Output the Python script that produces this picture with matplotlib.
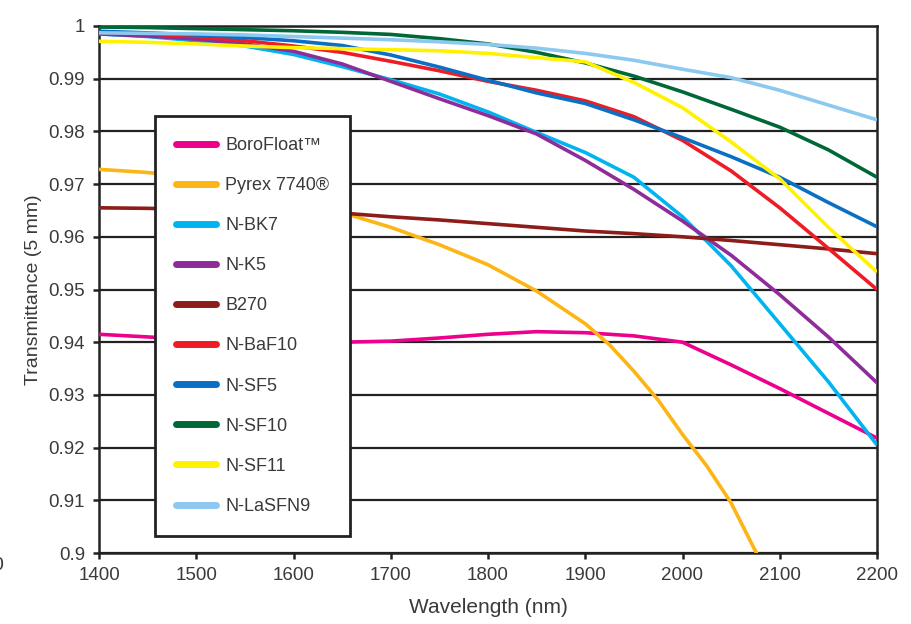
import matplotlib
matplotlib.use("Agg")
import matplotlib.pyplot as plt

plt.rcParams['font.family'] = ['Liberation Sans', 'DejaVu Sans']

# wavelength grid (nm) and read-off transmittance values
wl = [1400, 1450, 1500, 1550, 1600, 1650, 1700, 1750, 1800, 1850, 1900, 1950, 2000, 2050, 2100, 2150, 2200]

borofloat = [0.9415, 0.9410, 0.9405, 0.9402, 0.9400, 0.9400, 0.9402, 0.9408, 0.9415, 0.9420, 0.9418, 0.9412, 0.9400, 0.9357, 0.9312, 0.9265, 0.9218]
b270 = [0.9655, 0.9654, 0.9652, 0.9650, 0.9648, 0.9645, 0.9638, 0.9632, 0.9625, 0.9618, 0.9611, 0.9606, 0.9600, 0.9593, 0.9585, 0.9577, 0.9568]
nbk7 = [0.9985, 0.9980, 0.9972, 0.9962, 0.9946, 0.9923, 0.9898, 0.9871, 0.9837, 0.9798, 0.9760, 0.9713, 0.9638, 0.9545, 0.9435, 0.9325, 0.9205]
nk5 = [0.9985, 0.9981, 0.9975, 0.9966, 0.9952, 0.9928, 0.9895, 0.9862, 0.9830, 0.9795, 0.9745, 0.9690, 0.9630, 0.9565, 0.9490, 0.9410, 0.9323]
nbaf10 = [0.9988, 0.9985, 0.9980, 0.9972, 0.9962, 0.9950, 0.9933, 0.9915, 0.9895, 0.9878, 0.9858, 0.9828, 0.9783, 0.9725, 0.9655, 0.9578, 0.9500]
nsf5 = [0.9990, 0.9987, 0.9983, 0.9978, 0.9972, 0.9963, 0.9945, 0.9922, 0.9897, 0.9873, 0.9853, 0.9822, 0.9788, 0.9752, 0.9713, 0.9665, 0.9619]
nsf10 = [0.9998, 0.9997, 0.9995, 0.9993, 0.9991, 0.9988, 0.9984, 0.9976, 0.9966, 0.9950, 0.9930, 0.9905, 0.9875, 0.9842, 0.9808, 0.9765, 0.9713]
nsf11 = [0.9971, 0.9969, 0.9966, 0.9962, 0.9959, 0.9957, 0.9955, 0.9953, 0.9948, 0.9940, 0.9932, 0.9893, 0.9845, 0.9780, 0.9710, 0.9618, 0.9533]
nlasfn9 = [0.9987, 0.9986, 0.9985, 0.9983, 0.9980, 0.9977, 0.9974, 0.9970, 0.9965, 0.9958, 0.9948, 0.9935, 0.9918, 0.9902, 0.9878, 0.9850, 0.9822]

# Pyrex falls off the bottom of the axis, so it has its own grid
wl_pyrex = [1400, 1450, 1500, 1550, 1600, 1650, 1700, 1750, 1800, 1850, 1900, 1925, 1950, 1975, 2000, 2025, 2050, 2076, 2100]
pyrex = [0.9728, 0.9722, 0.9712, 0.9695, 0.9673, 0.9646, 0.9618, 0.9585, 0.9547, 0.9497, 0.9435, 0.9395, 0.9345, 0.9290, 0.9225, 0.9165, 0.9095, 0.9000, 0.8920]

labels = ['BoroFloat\u2122', 'Pyrex 7740\u00ae', 'N-BK7', 'N-K5', 'B270',
          'N-BaF10', 'N-SF5', 'N-SF10', 'N-SF11', 'N-LaSFN9']
colors = ['#ec008c', '#fdb515', '#00b4ef', '#8e2d9a', '#8c1d18',
          '#ee1c25', '#0b6fc4', '#006837', '#fff200', '#8cc8f0']

x_ticks = [1400, 1500, 1600, 1700, 1800, 1900, 2000, 2100, 2200]
y_ticks = [0.90, 0.91, 0.92, 0.93, 0.94, 0.95, 0.96, 0.97, 0.98, 0.99, 1.00]
y_tick_labels = ['0.9', '0.91', '0.92', '0.93', '0.94', '0.95', '0.96', '0.97', '0.98', '0.99', '1']

text_col = '#3a3a3a'

fig = plt.figure(figsize=(9.12, 6.24), dpi=100)
ax = fig.add_axes([99 / 912, 1 - 553 / 624, 778 / 912, 527 / 624])

series = [(wl, borofloat), (wl_pyrex, pyrex), (wl, nbk7), (wl, nk5), (wl, b270),
          (wl, nbaf10), (wl, nsf5), (wl, nsf10), (wl, nsf11), (wl, nlasfn9)]
for (xs, ys), lab, col in zip(series, labels, colors):
    ax.plot(xs, ys, color=col, lw=2.6, label=lab, zorder=3, solid_capstyle='butt')

ax.set_xlim(1400, 2200)
ax.set_ylim(0.9, 1.0)
ax.set_xticks(x_ticks)
ax.set_yticks(y_ticks)
ax.set_yticklabels(y_tick_labels)
ax.yaxis.grid(True, color='#222222', lw=1.6, zorder=1)
ax.set_axisbelow(True)
for s in ax.spines.values():
    s.set_color('#222222')
    s.set_linewidth(1.8)
ax.tick_params(direction='out', length=4, width=1.8, color='#222222',
               labelsize=13.5, labelcolor=text_col, pad=6)

ax.set_xlabel('Wavelength (nm)', fontsize=15, color=text_col, labelpad=10)
ax.set_ylabel('Transmittance (5 mm)', fontsize=14, color=text_col, labelpad=5)

leg = ax.legend(loc='upper left', bbox_to_anchor=(0.072, 0.829), borderaxespad=0,
                fontsize=13, frameon=True, fancybox=False, framealpha=1,
                handlelength=2.2, handletextpad=0.55, labelspacing=1.28,
                borderpad=1.15, labelcolor=text_col)
leg.get_frame().set_edgecolor('#222222')
leg.get_frame().set_linewidth(2)
leg.set_zorder(5)
for h in leg.get_lines():
    h.set_linewidth(5)
    h.set_solid_capstyle('round')

# clipped character at the left edge of the original image
fig.text(-0.003, 1 - 566 / 624, '0', fontsize=14, color=text_col, ha='center', va='center')

fig.savefig('out.png', dpi=100)
